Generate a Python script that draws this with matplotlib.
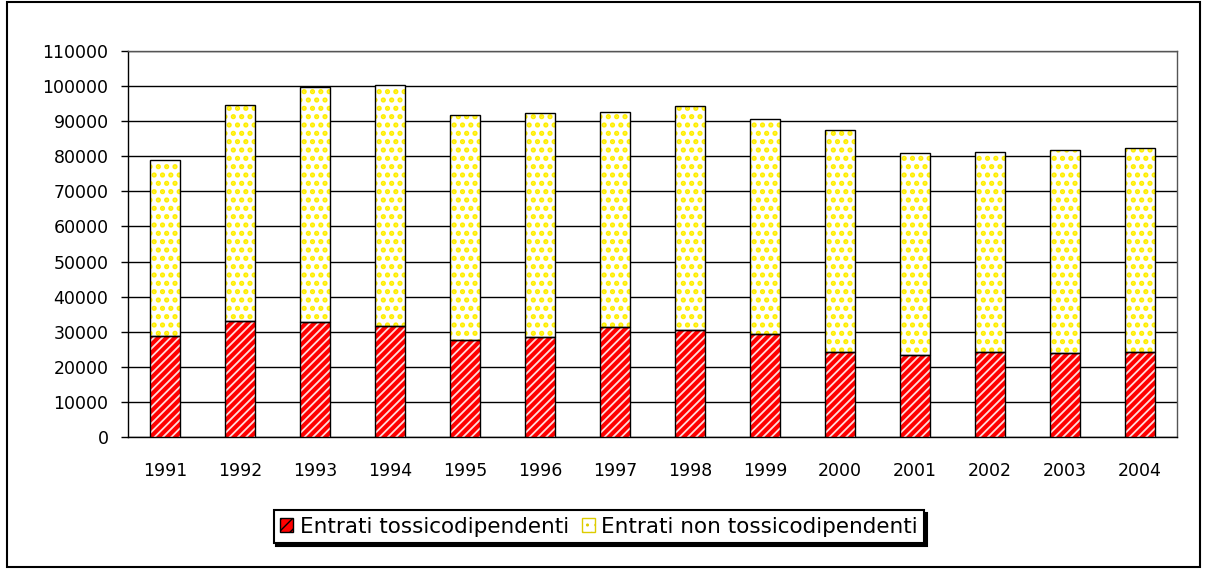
import matplotlib
matplotlib.use("Agg")
import matplotlib.pyplot as plt
from matplotlib.patches import Rectangle, Patch
import numpy as np

plt.rcParams['font.family'] = ['DejaVu Sans']

anni = ['1991', '1992', '1993', '1994', '1995', '1996', '1997',
        '1998', '1999', '2000', '2001', '2002', '2003', '2004']
# totali
totale = [78800, 94500, 99600, 100300, 91800, 92300, 92700,
          94300, 90600, 87500, 81000, 81300, 81800, 82300]
tossico = [28900, 33100, 32700, 31600, 27600, 28500, 31300,
           30500, 29300, 24100, 23500, 24200, 23800, 24100]
non_tossico = [t - s for t, s in zip(totale, tossico)]

fig = plt.figure(figsize=(12.05, 5.69), dpi=100)
ax = fig.add_axes([0.1062, 0.232, 0.8706, 0.6784])

x = np.arange(len(anni))
w = 0.4

# riempimenti con tratteggio, poi contorno nero
with plt.rc_context({'hatch.linewidth': 1.3}):
    ax.bar(x, tossico, w, color='#ff0000', hatch='////', edgecolor='#ffdddd', linewidth=0, zorder=3)
with plt.rc_context({'hatch.linewidth': 2.5}):
    ax.bar(x, non_tossico, w, bottom=tossico, color='white', hatch='..', edgecolor='#ffee00', linewidth=0, zorder=3)
ax.bar(x, tossico, w, fill=False, edgecolor='black', linewidth=1, zorder=4)
ax.bar(x, non_tossico, w, bottom=tossico, fill=False, edgecolor='black', linewidth=1, zorder=4)

ax.set_xlim(-0.5, len(anni) - 0.5)
ax.set_ylim(0, 110000)
ax.set_yticks(range(0, 110001, 10000))
ax.set_xticks(x)
ax.set_xticklabels(anni)
ax.tick_params(axis='y', labelsize=12.5, length=5, width=1, direction='out', pad=9)
ax.tick_params(axis='x', labelsize=12.5, length=0, pad=18)
ax.yaxis.grid(True, color='black', linewidth=1, zorder=0)
ax.set_axisbelow(True)
for s in ax.spines.values():
    s.set_color('#555555')
    s.set_linewidth(1)
ax.spines['left'].set_color('black')
ax.spines['bottom'].set_color('black')

with plt.rc_context({'hatch.linewidth': 1.5}):
    handles = [Patch(facecolor='#ff0000', hatch='///', edgecolor='black'),
               Patch(facecolor='white', hatch='..', edgecolor='#ddcc00')]
leg = fig.legend(handles, ['Entrati tossicodipendenti', 'Entrati non tossicodipendenti'],
                 loc='center', bbox_to_anchor=(0.497, 0.074), ncol=2, fontsize=15.5,
                 frameon=True, fancybox=False, shadow={'color': 'black', 'alpha': 1},
                 handlelength=0.6, handleheight=0.6, handletextpad=0.3, columnspacing=0.6,
                 borderpad=0.3)
leg.get_frame().set_edgecolor('black')
leg.get_frame().set_linewidth(1.5)

fig.patches.append(Rectangle((0.006, 0.004), 0.99, 0.992, transform=fig.transFigure,
                             fill=False, edgecolor='black', linewidth=1.5))

fig.savefig('out.png', dpi=100)
